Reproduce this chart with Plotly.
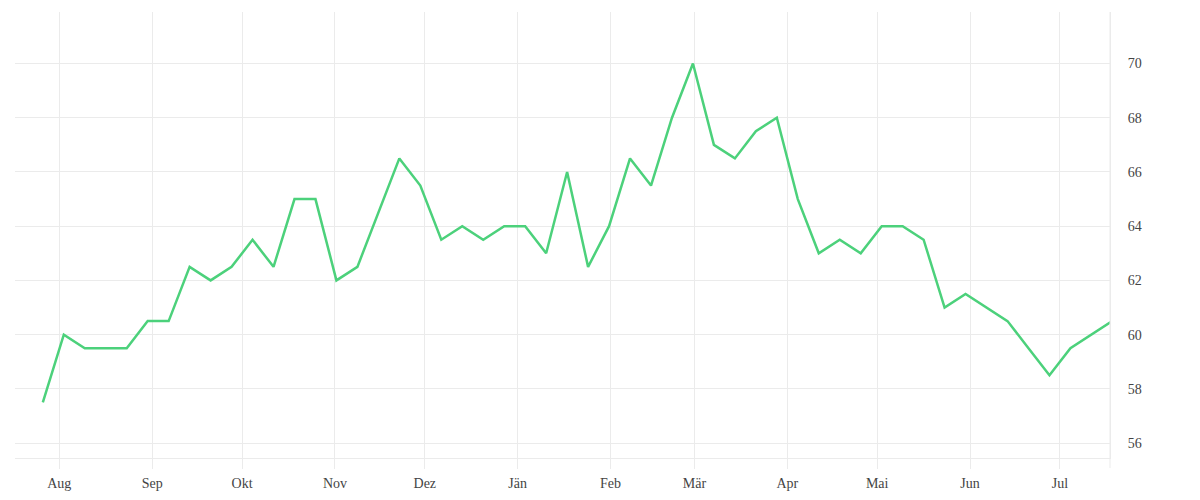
import pandas as pd
import plotly.graph_objects as go

# weekly values, first week starts 2018-07-26
week_start = "2018-07-26 12:00"
values = [57.5, 60, 59.5, 59.5, 59.5, 60.5, 60.5, 62.5, 62, 62.5,
          63.5, 62.5, 65, 65, 62, 62.5, 64.5, 66.5, 65.5, 63.5,
          64, 63.5, 64, 64, 63, 66, 62.5, 64, 66.5, 65.5,
          68, 70, 67, 66.5, 67.5, 68, 65, 63, 63.5, 63,
          64, 64, 63.5, 61, 61.5, 61, 60.5, 59.5, 58.5, 59.5,
          60, 60.5]

month_ticks = ["2018-08-01", "2018-09-01", "2018-10-01", "2018-11-01", "2018-12-01", "2019-01-01",
               "2019-02-01", "2019-03-01", "2019-04-01", "2019-05-01", "2019-06-01", "2019-07-01"]
month_labels = ["Aug", "Sep", "Okt", "Nov", "Dez", "Jän", "Feb", "Mär", "Apr", "Mai", "Jun", "Jul"]
y_ticks = [56, 58, 60, 62, 64, 66, 68, 70]

dates = pd.date_range(week_start, periods=len(values), freq="7D")

grid = "#ebebeb"
font_name = "Liberation Serif"

fig = go.Figure()
fig.add_trace(go.Scatter(x=dates, y=values, mode="lines",
                         line=dict(color="#4cd17b", width=2.5), hoverinfo="x+y"))

fig.update_layout(
    width=1200, height=500,
    margin=dict(l=7, r=98, t=4, b=50),
    paper_bgcolor="white", plot_bgcolor="white",
    showlegend=False,
    font=dict(family=font_name, size=14, color="#444444"),
)
fig.update_xaxes(
    range=["2018-07-17 05:00", "2019-07-17 17:00"],
    tickvals=month_ticks, ticktext=month_labels,
    showgrid=True, gridcolor=grid, gridwidth=1,
    ticks="outside", ticklen=10, tickcolor=grid, tickwidth=1,
    showline=True, linecolor=grid, linewidth=1,
    ticklabelstandoff=2,
    zeroline=False,
)
fig.update_yaxes(
    range=[55.45, 71.9],
    tickvals=y_ticks, side="right",
    showgrid=True, gridcolor=grid, gridwidth=1,
    showline=True, linecolor=grid, linewidth=1,
    ticklabelstandoff=14,
    zeroline=False,
)
# right border runs down into the tick zone
fig.add_shape(type="line", xref="paper", yref="paper", x0=1, x1=1, y0=-0.0224, y1=1,
              line=dict(color=grid, width=1))

fig.write_html("out.html")
